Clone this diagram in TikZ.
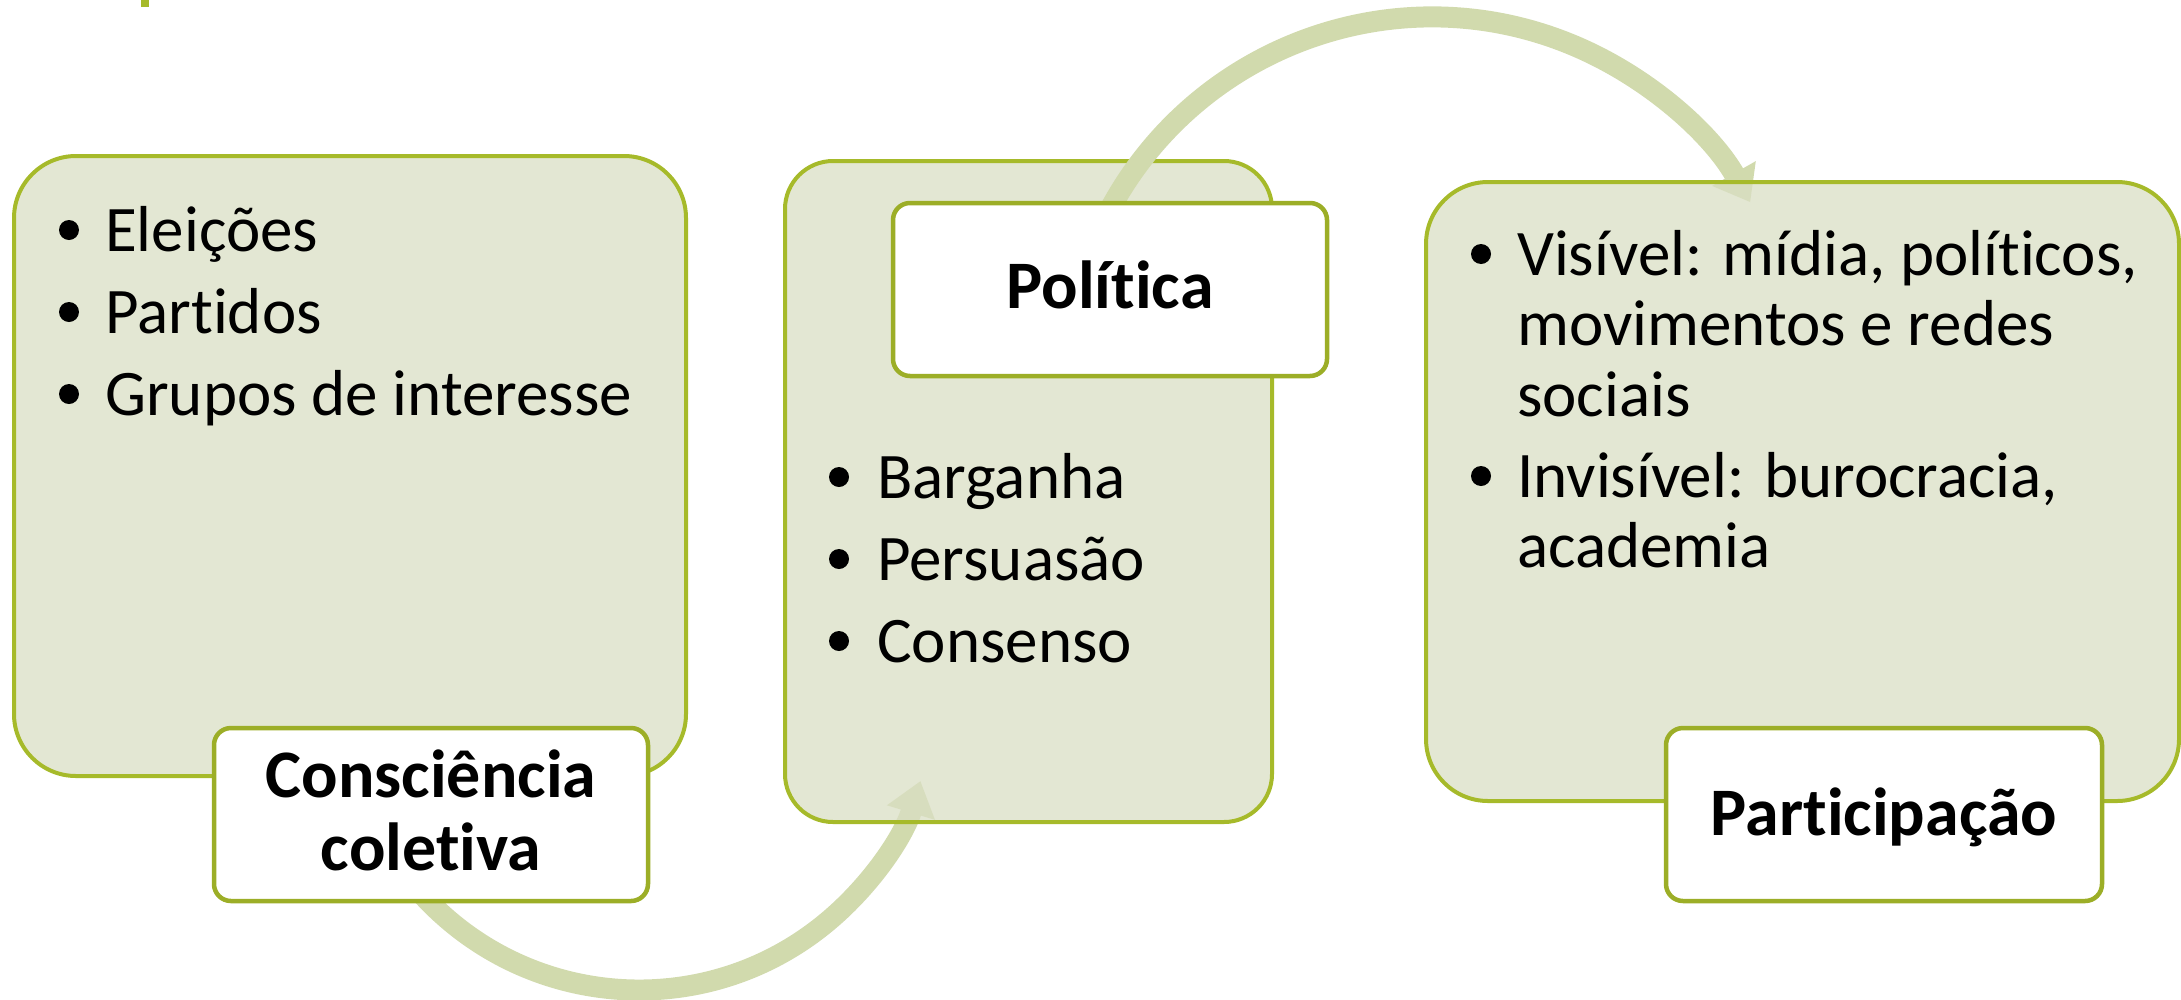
\documentclass[tikz,border=0pt]{standalone}
\usepackage{fontspec}
\setmainfont{Carlito}[Ligatures={NoCommon}]
\usetikzlibrary{arrows.meta}
\definecolor{boxfill}{RGB}{218,223,196}
\definecolor{boxline}{RGB}{166,186,42}
\definecolor{lblline}{RGB}{156,174,39}
\definecolor{arcc}{RGB}{209,218,173}
\newcommand{\nl}{\kern0pt }
\begin{document}
\begin{tikzpicture}[x=1pt,y=-1pt,
  bigbox/.style={draw=boxline, line width=4pt, fill=boxfill, fill opacity=0.75, draw opacity=1, inner sep=0pt},
  lbl/.style={draw=lblline, line width=4.5pt, fill=white, rounded corners=17pt, inner sep=0pt, minimum height=173pt, minimum width=434pt},
  body/.style={anchor=base west, inner sep=0pt, font=\fontsize{65pt}{71pt}\selectfont},
  lbltext/.style={anchor=base, inner sep=0pt, font=\bfseries\fontsize{68pt}{73pt}\selectfont},
  bul/.style={circle, fill=black, inner sep=0pt, minimum size=20pt},
  flow/.style={draw=arcc, line width=21pt, -{Triangle[width=48pt,length=33pt]}}]
\useasboundingbox (0,0) rectangle (2181,999);
\fill[boxline] (141,0) rectangle (149,7);
% bottom flow arc (behind box 2)
\coordinate (fs1) at (413.8,885);
\draw[flow] (fs1) arc[start angle=220, end angle=343.2, radius=294pt];
% big boxes
\node[bigbox, rounded corners=62pt, minimum width=672pt, minimum height=620pt] (b1) at (350,466) {};
\node[bigbox, rounded corners=48pt, minimum width=487pt, minimum height=661pt] (b2) at (1028.5,491.5) {};
% top flow arc (over box 2, behind box 3)
\coordinate (fs2) at (1100.3,228.3);
\draw[flow] (fs2) arc[start angle=155, end angle=29.6, radius=366pt];
\node[bigbox, rounded corners=62pt, minimum width=753pt, minimum height=619pt] (b3) at (1802.5,491.5) {};
% labels
\node[lbl] (l1) at (431,814.5) {};
\node[lbl] (l2) at (1110,289.5) {};
\node[lbl, minimum width=436pt] (l3) at (1884,814.5) {};
\node[lbltext] (l1a) at (431,797) {Consciência};
\node[lbltext] (l1b) at (431,870) {colet\nl iva};
\node[lbltext] (l2a) at (1110,308) {Polít\nl ica};
\node[lbltext] (l3a) at (1884,835) {Part\nl icipação};
% box 1 items
\node[bul] (u11) at (69,230) {};
\node[bul] (u12) at (69,312) {};
\node[bul] (u13) at (69,394) {};
\node[body] (t11) at (105,251) {Eleições};
\node[body] (t12) at (105,333) {Part\nl idos};
\node[body] (t13) at (105,415) {Grupos de interesse};
% box 2 items
\node[bul] (u21) at (839,477) {};
\node[bul] (u22) at (839,559) {};
\node[bul] (u23) at (839,641) {};
\node[body] (t21) at (877,498) {Barganha};
\node[body] (t22) at (877,580) {Persuasão};
\node[body] (t23) at (877,662) {Consenso};
% box 3 items
\node[bul] (u31) at (1481,254) {};
\node[bul] (u32) at (1481,476) {};
\node[body] (t31) at (1517,275) {Visível: mídia, polít\nl icos,};
\node[body] (t32) at (1517,345) {movimentos e redes};
\node[body] (t33) at (1517,416) {sociais};
\node[body] (t34) at (1517,497) {Invisível: burocracia,};
\node[body] (t35) at (1517,567) {academia};
\end{tikzpicture}
\end{document}
